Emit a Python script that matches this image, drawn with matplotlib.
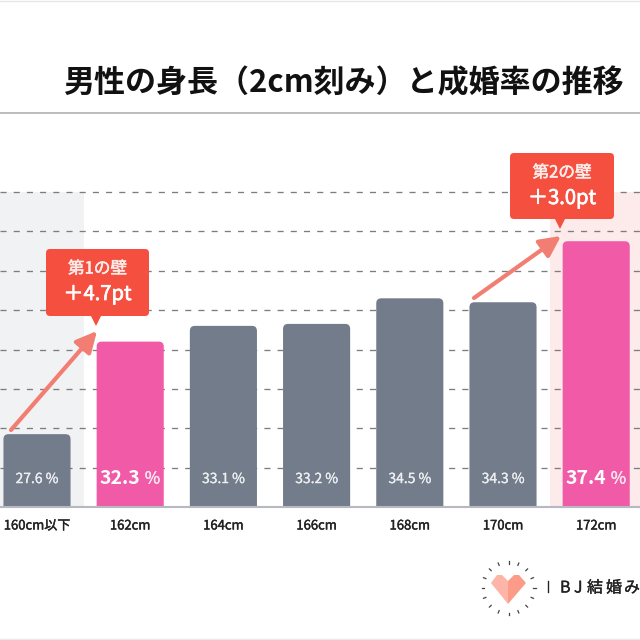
#!/usr/bin/env python3
"""Marriage rate by male height band, in 2cm steps, with two callouts."""
import numpy as np
import matplotlib

matplotlib.use("Agg")
import matplotlib.pyplot as plt
import matplotlib.patheffects as pe
from matplotlib.patches import FancyBboxPatch, PathPatch, Polygon
from matplotlib.path import Path

plt.rcParams["font.family"] = ["Noto Sans CJK JP", "DejaVu Sans"]

heights = ["160cm以下", "162cm", "164cm", "166cm", "168cm", "170cm", "172cm"]
rates = [27.6, 32.3, 33.1, 33.2, 34.5, 34.3, 37.4]
highlighted = ["162cm", "172cm"]
y_ticks = [25.9, 27.9, 29.9, 31.9, 33.9, 35.9, 37.9, 39.9]
logo_chars = ["I", "B", "J", "結", "婚", "み"]
logo_x = [546, 560, 574, 587, 606, 624]

GREY = "#737c8a"
PINK = "#f05aa6"
RED = "#f44f3f"
ARROW = "#f27d72"
W = 640
STEP = 93.2  # px between bar centres
X0 = 37      # px of the first bar centre
BASE = 23.9


def semi(color, width=0.3):
    # thin outline to thicken the regular weight a little
    return [pe.withStroke(linewidth=width, foreground=color)]


def top_rounded_bar(ax, x, value, width, base, color):
    # bar with rounded top corners only, radius about 5px
    rx, ry = 5 / STEP, 5 / 19.7
    l, r = x - width / 2, x + width / 2
    verts = [(l, base), (l, value - ry), (l, value), (l + rx, value),
             (r - rx, value), (r, value), (r, value - ry), (r, base), (l, base)]
    codes = [Path.MOVETO, Path.LINETO, Path.CURVE3, Path.CURVE3,
             Path.LINETO, Path.CURVE3, Path.CURVE3, Path.LINETO, Path.CLOSEPOLY]
    ax.add_patch(PathPatch(Path(verts, codes), fc=color, ec="none", zorder=3))


def callout(ov, x0, y0, x1, y1, tip_x, tip_y, head, value):
    ov.add_patch(FancyBboxPatch((x0 + 4, y0 + 4), x1 - x0 - 8, y1 - y0 - 8,
                                boxstyle="round,pad=4,rounding_size=4", fc=RED, ec="none", zorder=6))
    ov.add_patch(Polygon([(tip_x - 5.5, y1 - 1), (tip_x + 5.5, y1 - 1), (tip_x, tip_y)],
                         fc=RED, ec="none", zorder=6))
    cx = (x0 + x1) / 2
    ov.text(cx, y0 + 20, head, color="#fdecea", fontsize=12, ha="center", va="center",
            zorder=7, path_effects=semi("#fdecea", 0.4))
    ov.text(cx, y0 + 45.5, value, color="white", fontsize=14.5, ha="center", va="center",
            zorder=7, path_effects=semi("white", 0.5))


def arrow(ov, start, end):
    ov.annotate("", xy=end, xytext=start, zorder=5,
                arrowprops=dict(arrowstyle="-|>,head_length=0.9,head_width=0.45", color=ARROW,
                                lw=3, shrinkA=0, shrinkB=0, mutation_scale=14))


fig = plt.figure(figsize=(6.4, 6.4), dpi=100, facecolor="white")

# plot area runs from y=192 down to y=507
ax = fig.add_axes([0, (640 - 507) / 640, 1, (507 - 192) / 640])
ax.set_xlim(-X0 / STEP, (W - X0) / STEP)
ax.set_ylim(BASE, BASE + 16)
ax.patch.set_alpha(0)
for s in ax.spines.values():
    s.set_visible(False)

ax.axvspan(-0.5, 0.5, color="#f1f2f4", lw=0, zorder=0)
ax.axvspan(5.5, 7, color="#fdeaea", lw=0, zorder=0)

for t in y_ticks:
    ax.axhline(t, color="#7d7d7d", lw=0.95, dashes=(4.6, 5.4), zorder=1, clip_on=False)

pos = np.arange(len(heights))
for i, (h, v) in enumerate(zip(heights, rates)):
    hot = h in highlighted
    top_rounded_bar(ax, i, v, 0.72, BASE, PINK if hot else GREY)
    if hot:
        ax.annotate(f"{v:.1f}", (i, 25.37), xytext=(7, 0), textcoords="offset points",
                    color="white", fontsize=14, fontweight="bold", ha="right", va="center", zorder=4)
        ax.annotate("%", (i, 25.32), xytext=(10.5, 0), textcoords="offset points",
                    color="#fbe3ef", fontsize=12, ha="left", va="center", zorder=4,
                    path_effects=semi("#fbe3ef"))
    else:
        ax.text(i, 25.32, f"{v:.1f} %", color="#eceef0", fontsize=10,
                ha="center", va="center", zorder=4, path_effects=semi("#eceef0", 0.2))

ax.axhline(BASE, color="#b7b9c2", lw=1.5, zorder=4, clip_on=False)
ax.set_yticks([])
ax.set_xticks(pos, heights)
ax.tick_params(axis="x", length=0, pad=9, labelsize=9.4, labelcolor="#222222")
for lab in ax.get_xticklabels():
    lab.set_path_effects(semi("#222222"))

# pixel-space overlay for the header, callouts and logo
ov = fig.add_axes([0, 0, 1, 1], zorder=5)
ov.set_xlim(0, W)
ov.set_ylim(W, 0)
ov.axis("off")

ov.text(343, 83, "男性の身長（2cm刻み）と成婚率の推移", fontsize=22.3, fontweight="bold",
        color="#111111", ha="center", va="center")
ov.plot([0, W], [113, 113], color="#bcbcbc", lw=1.4)
ov.plot([0, W], [0.5, 0.5], color="#e6e6e6", lw=1)
ov.plot([0, W], [638.5, 638.5], color="#e8e8e8", lw=1)

arrow(ov, (11, 430), (97, 331))
arrow(ov, (474, 298), (561, 236))
callout(ov, 46, 249, 149, 316, 96, 326, "第1の壁", "＋4.7pt")
callout(ov, 510, 153, 614, 219, 560, 229, "第2の壁", "＋3.0pt")

# heart logo with a ring of short rays
cx, cy = 508.5, 588
ov.add_patch(Polygon([(508, 581), (502, 575), (497, 575), (491, 583), (508, 604)],
                     fc="#fdb5a7", ec="none"))
ov.add_patch(Polygon([(508, 581), (514, 575), (519, 575), (526, 583), (508, 604)],
                     fc="#fc9c88", ec="none"))
for a in np.deg2rad(np.arange(0, 360, 22.5)):
    ov.plot([cx + 24.5 * np.cos(a), cx + 27 * np.cos(a)], [cy + 24.5 * np.sin(a), cy + 27 * np.sin(a)],
            color="#444444", lw=0.9)
for ch, x in zip(logo_chars, logo_x):
    ov.text(x, 588, ch, fontsize=11.5, color="#222222", ha="left", va="center", clip_on=False,
            path_effects=semi("#222222", 0.25))

fig.savefig("out.png", dpi=100)
